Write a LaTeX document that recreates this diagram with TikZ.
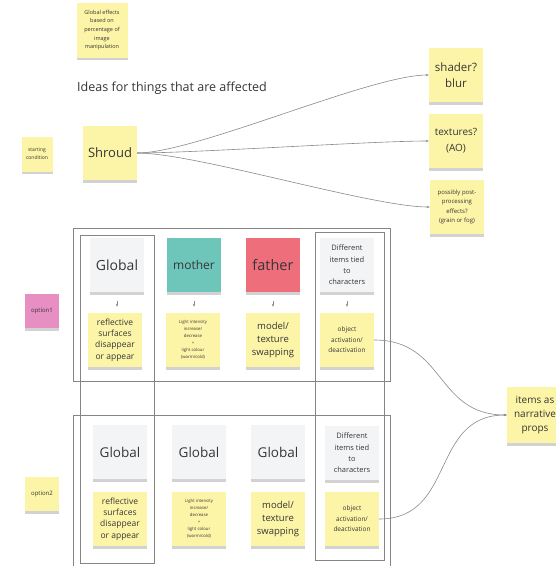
\documentclass[tikz,border=0pt]{standalone}
\usepackage{fontspec}
\setmainfont{Open Sans}
\usetikzlibrary{arrows.meta,shadows}
\definecolor{ink}{HTML}{363636}
\definecolor{sticky}{HTML}{FCF4A6}
\definecolor{stickyteal}{HTML}{6EC6BB}
\definecolor{stickyred}{HTML}{EE6E7C}
\definecolor{stickypink}{HTML}{E78FC2}
\definecolor{stickygray}{HTML}{F3F4F6}
\definecolor{wire}{HTML}{8A8A8A}
\definecolor{framegray}{HTML}{858585}
\tikzset{note/.style={fill=sticky,text=ink,align=center,minimum width=54pt,minimum height=54pt,inner sep=1pt,drop shadow={shadow xshift=0pt,shadow yshift=-2.5pt,opacity=.35}}, small/.style={minimum width=34pt,minimum height=34pt}, fsz/.style 2 args={font=\fontsize{#1}{#2}\selectfont}, arr/.style={-{Stealth[length=3pt,width=2.4pt]},draw=wire,line width=.6pt}, frame/.style={draw=framegray,line width=.6pt}}

\begin{document}
\begin{tikzpicture}[x=1pt,y=-1pt]
\clip (0,0) rectangle (556,566);
\fill[white] (0,0) rectangle (556,566);
% frames
\draw[frame] (73,228) rectangle (390,381);
\draw[frame] (73,415) rectangle (390,580);
\draw[frame] (80,235) rectangle (154,563);
\draw[frame] (315,232) rectangle (384,560);
% top part
\node[note,minimum width=51pt,minimum height=55pt,fsz={5.5}{8.7}] (fx) at (102,30){Global effects\\based on\\percentage of\\image\\manipulation};
\node[anchor=west,text=ink,fsz={12.5}{14},inner sep=0pt] (ti) at (77,88){Ideas for things that are affected};
\node[note,minimum width=31pt,minimum height=35pt,fsz={5}{7.7}] (sc) at (37,154){starting\\condition};
\node[note,fsz={13}{16}] (sh) at (110,153){Shroud};
\node[note,fsz={11.5}{16}] (bl) at (456,75){shader?\\blur};
\node[note,fsz={10}{15.7}] (ao) at (456,141){textures?\\(AO)};
\node[note,fsz={6}{9.5}] (pp) at (457,207){possibly post-\\processing\\effects?\\(grain or fog)};
\draw[arr] (sh.east) to[out=0,in=180,looseness=.5] (bl.west);
\draw[arr] (sh.east) to[out=0,in=180,looseness=.5] (ao.west);
\draw[arr] (sh.east) to[out=0,in=180,looseness=.5] (pp.west);
% option 1
\node[note,small,fill=stickypink,fsz={6}{8}] (o1) at (42,311){option1};
\node[note,fill=stickygray,fsz={14}{16}] (g1) at (117,265){Global};
\node[note,fill=stickyteal,fsz={12}{14}] (m1) at (194,265){mother};
\node[note,fill=stickyred,fsz={14.5}{16}] (f1) at (273,265){father};
\node[note,fill=stickygray,fsz={7.5}{11.3}] (d1) at (347,265){Different\\items tied\\to\\characters};
\node[note,fsz={8.5}{11.3}] (r1) at (115,340){reflective\\surfaces\\disappear\\or appear};
\node[note,fsz={4.3}{7}] (l1) at (193,340){Light intensity\\increase/\\decrease\\+\\light colour\\(warm/cold)};
\node[note,fsz={9.5}{12.7}] (t1) at (273,340){model/\\texture\\swapping};
\node[note,fsz={6.5}{10.5}] (a1) at (347,340){object\\activation/\\deactivation};
\draw[arr,shorten <=9pt,shorten >=6pt] (g1.south) -- (g1.south |- r1.north);
\draw[arr,shorten <=9pt,shorten >=6pt] (m1.south) -- (m1.south |- l1.north);
\draw[arr,shorten <=9pt,shorten >=6pt] (f1.south) -- (f1.south |- t1.north);
\draw[arr,shorten <=9pt,shorten >=6pt] (d1.south) -- (d1.south |- a1.north);
% option 2
\node[note,small,fsz={6}{8}] (o2) at (42,494){option2};
\node[note,fill=stickygray,fsz={13.5}{16}] (g2) at (120,452){Global};
\node[note,fill=stickygray,fsz={13.5}{16}] (g3) at (199,452){Global};
\node[note,fill=stickygray,fsz={13.5}{16}] (g4) at (278,452){Global};
\node[note,fill=stickygray,fsz={7.5}{11.3}] (d2) at (352,453){Different\\items tied\\to\\characters};
\node[note,fsz={8.5}{11.3}] (r2) at (120,519){reflective\\surfaces\\disappear\\or appear};
\node[note,fsz={4.3}{7}] (l2) at (199,519){Light intensity\\increase/\\decrease\\+\\light colour\\(warm/cold)};
\node[note,fsz={9.5}{12.7}] (t2) at (278,519){model/\\texture\\swapping};
\node[note,fsz={6.5}{10.5}] (a2) at (352,519){object\\activation/\\deactivation};
% props
\node[note,minimum width=56pt,minimum height=56pt,fsz={10}{14}] (ip) at (535,415){items as\\narrative\\props};
\draw[arr] (a1.east) to[out=0,in=180,looseness=1.2] (ip.west);
\draw[arr] (a2.east) to[out=0,in=180,looseness=1.2] (ip.west);
\end{tikzpicture}
\end{document}
